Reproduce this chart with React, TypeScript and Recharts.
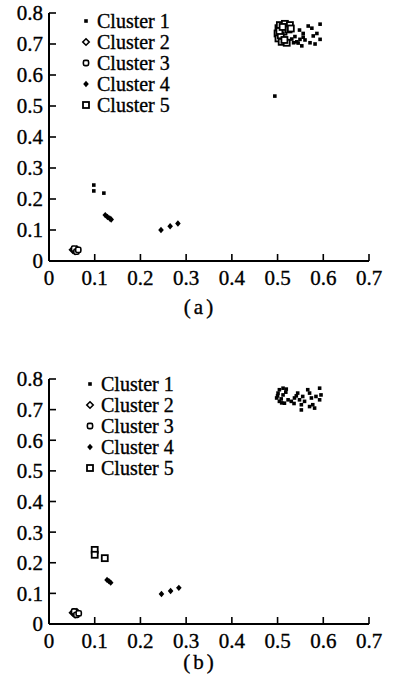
import React from "react";
import { ScatterChart, Scatter, XAxis, YAxis } from "recharts";

type Pt = { x: number; y: number };

const xTicks = [0, 0.1, 0.2, 0.3, 0.4, 0.5, 0.6, 0.7];
const yTicks = [0, 0.1, 0.2, 0.3, 0.4, 0.5, 0.6, 0.7, 0.8];
const legendNames = ["Cluster 1", "Cluster 2", "Cluster 3", "Cluster 4", "Cluster 5"];

// panel (a)
const aCluster1: Pt[] = [
  { x: 0.098, y: 0.245 }, { x: 0.098, y: 0.226 }, { x: 0.12, y: 0.219 },
  { x: 0.494, y: 0.532 },
  { x: 0.567, y: 0.758 }, { x: 0.575, y: 0.751 }, { x: 0.593, y: 0.764 },
  { x: 0.586, y: 0.734 }, { x: 0.593, y: 0.715 }, { x: 0.578, y: 0.726 },
  { x: 0.571, y: 0.704 }, { x: 0.582, y: 0.7 }, { x: 0.553, y: 0.694 },
  { x: 0.556, y: 0.722 }, { x: 0.548, y: 0.745 },
  { x: 0.538, y: 0.724 }, { x: 0.542, y: 0.707 }, { x: 0.549, y: 0.715 },
  { x: 0.556, y: 0.734 }, { x: 0.535, y: 0.704 }, { x: 0.56, y: 0.713 },
  { x: 0.531, y: 0.716 }, { x: 0.545, y: 0.703 },
];
const aCluster2: Pt[] = [
  { x: 0.052, y: 0.036 }, { x: 0.057, y: 0.032 }, { x: 0.061, y: 0.038 },
];
const aCluster3: Pt[] = [
  { x: 0.055, y: 0.04 }, { x: 0.06, y: 0.03 }, { x: 0.064, y: 0.036 },
];
const aCluster4: Pt[] = [
  { x: 0.123, y: 0.148 }, { x: 0.128, y: 0.142 }, { x: 0.133, y: 0.137 }, { x: 0.136, y: 0.134 },
  { x: 0.245, y: 0.1 }, { x: 0.265, y: 0.112 }, { x: 0.282, y: 0.121 },
];
const aCluster5: Pt[] = [
  { x: 0.502, y: 0.751 }, { x: 0.505, y: 0.761 }, { x: 0.516, y: 0.765 }, { x: 0.527, y: 0.761 },
  { x: 0.5, y: 0.734 }, { x: 0.502, y: 0.718 }, { x: 0.509, y: 0.707 }, { x: 0.52, y: 0.704 },
  { x: 0.513, y: 0.74 }, { x: 0.524, y: 0.747 }, { x: 0.529, y: 0.75 }, { x: 0.507, y: 0.728 },
  { x: 0.504, y: 0.742 }, { x: 0.511, y: 0.755 }, { x: 0.515, y: 0.713 },
];

// panel (b)
const bCluster1: Pt[] = [
  { x: 0.501, y: 0.754 }, { x: 0.504, y: 0.765 }, { x: 0.512, y: 0.77 }, { x: 0.519, y: 0.767 },
  { x: 0.498, y: 0.738 }, { x: 0.504, y: 0.727 }, { x: 0.515, y: 0.721 }, { x: 0.523, y: 0.732 },
  { x: 0.512, y: 0.748 }, { x: 0.53, y: 0.727 }, { x: 0.537, y: 0.738 }, { x: 0.544, y: 0.754 },
  { x: 0.548, y: 0.732 }, { x: 0.555, y: 0.743 }, { x: 0.552, y: 0.716 }, { x: 0.559, y: 0.727 },
  { x: 0.566, y: 0.765 }, { x: 0.57, y: 0.754 }, { x: 0.574, y: 0.738 }, { x: 0.577, y: 0.716 },
  { x: 0.581, y: 0.705 }, { x: 0.584, y: 0.743 }, { x: 0.592, y: 0.77 }, { x: 0.592, y: 0.732 },
  { x: 0.595, y: 0.748 }, { x: 0.552, y: 0.699 }, { x: 0.57, y: 0.71 },
  { x: 0.5, y: 0.745 }, { x: 0.508, y: 0.735 }, { x: 0.518, y: 0.757 }, { x: 0.536, y: 0.72 },
  { x: 0.541, y: 0.745 }, { x: 0.509, y: 0.722 },
];
const bCluster2: Pt[] = [
  { x: 0.052, y: 0.037 }, { x: 0.057, y: 0.031 }, { x: 0.061, y: 0.039 },
];
const bCluster3: Pt[] = [
  { x: 0.055, y: 0.041 }, { x: 0.06, y: 0.03 }, { x: 0.065, y: 0.035 },
];
const bCluster4: Pt[] = [
  { x: 0.127, y: 0.144 }, { x: 0.131, y: 0.14 }, { x: 0.135, y: 0.135 },
  { x: 0.246, y: 0.098 }, { x: 0.266, y: 0.108 }, { x: 0.284, y: 0.118 },
];
const bCluster5: Pt[] = [
  { x: 0.1, y: 0.242 }, { x: 0.1, y: 0.226 }, { x: 0.122, y: 0.215 },
];

const font = '"Liberation Serif", "Times New Roman", serif';

function Marker({ kind, cx, cy }: { kind: number; cx: number; cy: number }) {
  if (kind === 0) return <rect x={cx - 1.8} y={cy - 1.8} width={3.6} height={3.6} fill="#000" />;
  if (kind === 1)
    return (
      <polygon
        points={`${cx},${cy - 3.2} ${cx + 3.2},${cy} ${cx},${cy + 3.2} ${cx - 3.2},${cy}`}
        fill="#fff"
        stroke="#000"
        strokeWidth={1.6}
      />
    );
  if (kind === 2)
    return <rect x={cx - 2.6} y={cy - 2.6} width={5.2} height={5.2} rx={1.5} fill="#fff" stroke="#000" strokeWidth={1.6} />;
  if (kind === 3)
    return <polygon points={`${cx},${cy - 3.2} ${cx + 2.8},${cy} ${cx},${cy + 3.2} ${cx - 2.8},${cy}`} fill="#000" />;
  return <rect x={cx - 3} y={cy - 3} width={6} height={6} fill="#fff" stroke="#000" strokeWidth={1.8} />;
}

const shapeFor = (kind: number) => (p: any) => <Marker kind={kind} cx={p.cx} cy={p.cy} />;

const fmt = (v: number) => (v === 0 ? "0" : v.toFixed(1));

function XTick(props: any) {
  const { x, y, payload } = props;
  const ay = y - 17;
  return (
    <g>
      <line x1={x} y1={ay} x2={x} y2={ay - 7} stroke="#000" strokeWidth={1.6} />
      <text x={x} y={y} dy="0.355em" textAnchor="middle" fontSize={21} fontFamily={font} fill="#000" stroke="#000" strokeWidth={0.35}>
        {fmt(payload.value)}
      </text>
    </g>
  );
}

function YTick(props: any) {
  const { x, y, payload } = props;
  const ax = x + 6;
  return (
    <g>
      <line x1={ax} y1={y} x2={ax + 7} y2={y} stroke="#000" strokeWidth={1.6} />
      <text x={x} y={y} dy="0.355em" textAnchor="end" fontSize={21} fontFamily={font} fill="#000" stroke="#000" strokeWidth={0.35}>
        {fmt(payload.value)}
      </text>
    </g>
  );
}

function Panel({ series, bottom }: { series: Pt[][]; bottom: number }) {
  return (
    <ScatterChart width={395} height={300} margin={{ top: 13, right: 26, bottom, left: 0 }}>
      <XAxis
        type="number"
        dataKey="x"
        domain={[0, 0.7]}
        ticks={xTicks}
        height={30}
        tickSize={0}
        tickMargin={17}
        tickLine={false}
        tick={<XTick />}
        axisLine={{ stroke: "#000", strokeWidth: 2 }}
        interval={0}
      />
      <YAxis
        type="number"
        dataKey="y"
        domain={[0, 0.8]}
        ticks={yTicks}
        width={49}
        tickSize={0}
        tickMargin={6}
        tickLine={false}
        tick={<YTick />}
        axisLine={{ stroke: "#000", strokeWidth: 2 }}
        interval={0}
      />
      {series.map((d, i) => (
        <Scatter key={i} data={d} shape={shapeFor(i)} isAnimationActive={false} />
      ))}
    </ScatterChart>
  );
}

const textStyle: React.CSSProperties = {
  fontFamily: font,
  color: "#000",
  WebkitTextStroke: "0.35px #000",
};

function LegendBox({ left, top }: { left: number; top: number }) {
  return (
    <div style={{ position: "absolute", left, top, fontSize: 20, ...textStyle }}>
      {legendNames.map((n, i) => (
        <div key={n} style={{ display: "flex", alignItems: "center", height: 21, lineHeight: "20px" }}>
          <svg width={14} height={14} style={{ marginRight: 4 }}>
            <Marker kind={i} cx={7} cy={7} />
          </svg>
          <span style={{ display: "inline-block", height: 20, lineHeight: "20px" }}>{n}</span>
        </div>
      ))}
    </div>
  );
}

export default function App() {
  return (
    <div style={{ position: "absolute", left: 0, top: 0, width: 395, height: 681, background: "#fff" }}>
      <div style={{ position: "absolute", left: 0, top: 0 }}>
        <Panel series={[aCluster1, aCluster2, aCluster3, aCluster4, aCluster5]} bottom={9} />
      </div>
      <LegendBox left={79} top={10} />
      <div style={{ position: "absolute", left: 160, top: 295, width: 80, textAlign: "center", fontSize: 21, lineHeight: "24px", letterSpacing: 3, ...textStyle }}>
        (a)
      </div>
      <div style={{ position: "absolute", left: 0, top: 366 }}>
        <Panel series={[bCluster1, bCluster2, bCluster3, bCluster4, bCluster5]} bottom={12} />
      </div>
      <LegendBox left={83} top={373} />
      <div style={{ position: "absolute", left: 160, top: 650, width: 80, textAlign: "center", fontSize: 21, lineHeight: "24px", letterSpacing: 3, ...textStyle }}>
        (b)
      </div>
    </div>
  );
}
